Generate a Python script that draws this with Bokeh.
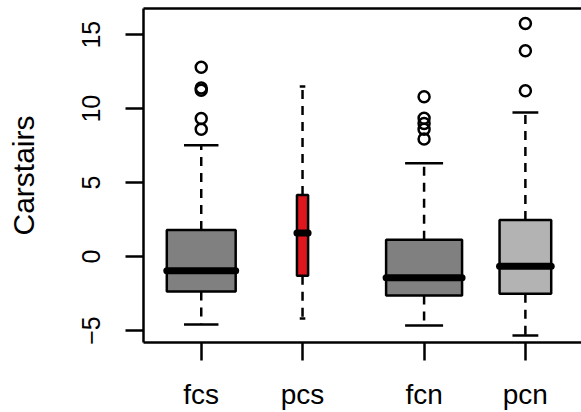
from bokeh.plotting import figure
from bokeh.models import Range1d, FixedTicker, LinearAxis
from bokeh.embed import file_html
from bokeh.resources import INLINE

# ---- data ----
categories = ["fcs", "pcs", "fcn", "pcn"]
x_pos = [1.0, 2.0, 3.2, 4.2]
box_width = [0.68, 0.11, 0.75, 0.51]
q1 = [-2.37, -1.30, -2.64, -2.51]
median = [-0.96, 1.60, -1.43, -0.66]
q3 = [1.80, 4.16, 1.13, 2.47]
whisker_low = [-4.60, -4.19, -4.66, -5.33]
whisker_high = [7.53, 11.50, 6.31, 9.74]
box_colors = ["#808080", "#e0161e", "#808080", "#b3b3b3"]
outlier_group = [0, 0, 0, 0, 0, 2, 2, 2, 2, 2, 3, 3, 3]
outlier_values = [12.8, 11.4, 11.25, 9.34, 8.6,
                  10.8, 9.35, 9.0, 8.6, 7.95,
                  15.75, 13.92, 11.21]
y_ticks = [-5, 0, 5, 10, 15]

FONT = "Liberation Sans"
LW = 2.5

p = figure(width=581, height=412, output_backend="svg", toolbar_location=None,
           x_range=Range1d(0.43, 4.754), y_range=Range1d(-5.81, 16.77),
           min_border_left=143, min_border_right=0, min_border_top=8,
           min_border_bottom=69)
p.outline_line_color = None
p.grid.visible = False
p.background_fill_color = "white"
p.border_fill_color = "white"

left = [x - w / 2 for x, w in zip(x_pos, box_width)]
right = [x + w / 2 for x, w in zip(x_pos, box_width)]
cap_l = [x - w / 4 for x, w in zip(x_pos, box_width)]
cap_r = [x + w / 4 for x, w in zip(x_pos, box_width)]

# whiskers (dashed)
p.segment(x0=x_pos, y0=q3, x1=x_pos, y1=whisker_high, line_color="black",
          line_width=LW, line_dash="9 7")
p.segment(x0=x_pos, y0=q1, x1=x_pos, y1=whisker_low, line_color="black",
          line_width=LW, line_dash="9 7")
# staples
p.segment(x0=cap_l, y0=whisker_high, x1=cap_r, y1=whisker_high,
          line_color="black", line_width=LW)
p.segment(x0=cap_l, y0=whisker_low, x1=cap_r, y1=whisker_low,
          line_color="black", line_width=LW)
# boxes
p.quad(left=left, right=right, bottom=q1, top=q3, fill_color=box_colors,
       line_color="black", line_width=LW)
# medians
p.segment(x0=left, y0=median, x1=right, y1=median, line_color="black",
          line_width=7, line_cap="round")
# outliers
p.scatter(x=[x_pos[g] for g in outlier_group], y=outlier_values,
          marker="circle", size=11, fill_color=None, line_color="black",
          line_width=LW)

# y axis
ya = p.yaxis[0]
ya.ticker = FixedTicker(ticks=y_ticks)
ya.major_label_orientation = "vertical"
ya.axis_label = "Carstairs"
ya.axis_label_text_font = FONT
ya.axis_label_text_font_style = "normal"
ya.axis_label_text_font_size = "30px"
ya.axis_label_text_color = "black"
ya.axis_label_standoff = 40
ya.major_label_text_font = FONT
ya.major_label_text_font_size = "25px"
ya.major_label_text_color = "black"
ya.major_label_standoff = 25
ya.major_tick_out = 18
ya.major_tick_in = 0
ya.minor_tick_out = 0
ya.minor_tick_in = 0
ya.major_tick_line_width = LW
ya.axis_line_width = LW

# x axis
xa = p.xaxis[0]
xa.ticker = FixedTicker(ticks=x_pos)
xa.major_label_overrides = {x: c for x, c in zip(x_pos, categories)}
xa.major_label_text_font = FONT
xa.major_label_text_font_size = "28px"
xa.major_label_text_color = "black"
xa.major_label_standoff = 18
xa.major_tick_out = 18
xa.major_tick_in = 0
xa.minor_tick_out = 0
xa.minor_tick_in = 0
xa.major_tick_line_width = LW
xa.axis_line_width = LW

# top border
top = LinearAxis(ticker=FixedTicker(ticks=[]), major_label_text_font_size="0px",
                 major_tick_out=0, major_tick_in=0, minor_tick_out=0,
                 minor_tick_in=0, axis_line_width=LW, major_label_standoff=0)
p.add_layout(top, "above")

open("out.html", "w").write(file_html(p, INLINE))
